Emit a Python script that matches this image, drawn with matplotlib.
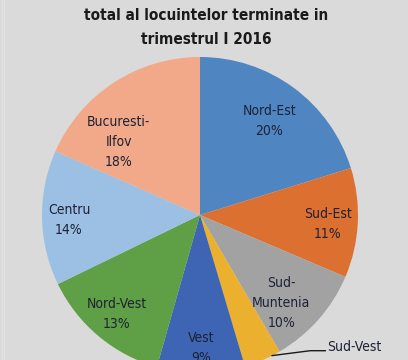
import matplotlib
matplotlib.use("Agg")
import matplotlib.pyplot as plt
from matplotlib.lines import Line2D
import numpy as np

regions = ["Nord-Est", "Sud-Est", "Sud-\nMuntenia", "Sud-Vest", "Vest", "Nord-Vest", "Centru", "Bucuresti-\nIlfov"]
shares = [20.2, 11.2, 10.2, 3.8, 9.0, 13.4, 13.8, 18.4]
pct_labels = ["20%", "11%", "10%", "4%", "9%", "13%", "14%", "18%"]
title_lines = ["Distributia pe regiuni de dezvoltare a numarului",
               "total al locuintelor terminate in",
               "trimestrul I 2016"]

colors = ["#4F86C2", "#DC7030", "#A2A2A2", "#EBB12E", "#3E65B4", "#5F9F45", "#9CC0E4", "#F1A98A"]
bg = "#DADADA"
# label placement style: radial fraction, angular shift (deg, clockwise)
lab_r = [0.74, 0.81, 0.76, 1.128, 0.84, 0.82, 0.83, 0.69]
lab_shift = [0, 1, 6, -22.2, 0, 0, -1, -15]

W, H = 408, 360
fig = plt.figure(figsize=(W / 100, H / 100), dpi=100, facecolor=bg)
font = dict(family="DejaVu Sans", fontstretch="condensed")

cx, cy, R = 200, 215, 158
ax = fig.add_axes([(cx - R) / W, (H - cy - R) / H, 2 * R / W, 2 * R / H])
ax.set_facecolor(bg)
wedges, _ = ax.pie(shares, colors=colors, startangle=90, counterclock=False,
                   radius=1, wedgeprops=dict(linewidth=0))
ax.set_xlim(-1, 1)
ax.set_ylim(-1, 1)
ax.set_aspect("auto")
ax.axis("off")

px = 1 / R  # one pixel in data units
for i, w in enumerate(wedges):
    mid_deg = (w.theta1 + w.theta2) / 2
    mid = np.deg2rad(mid_deg - lab_shift[i])
    x, y = lab_r[i] * np.cos(mid), lab_r[i] * np.sin(mid)
    txt = regions[i] + "\n" + pct_labels[i]
    if lab_r[i] > 1:
        edge_ang = np.deg2rad(mid_deg + 3.75)
        ex, ey = np.cos(edge_ang), np.sin(edge_ang)
        kx, ky = x - 17 * px, y - 11 * px
        ax.plot([ex, kx, x - 2 * px], [ey, ky, ky], color="#1A1A1A", lw=1, clip_on=False)
        ax.text(x, y, txt, ha="left", va="top", fontsize=10, color="#1E2235",
                linespacing=1.55, clip_on=False, **font)
        continue
    ax.text(x, y, txt, ha="center", va="center", fontsize=10, color="#1E2235",
            linespacing=1.55, **font)

n = len(title_lines)
for i, line in enumerate(title_lines):
    base = 44 - 24 * (n - 1 - i)
    fig.text(206 / W, 1 - base / H, line, ha="center", va="baseline",
             fontsize=11, fontweight="bold", color="#1A1A1A", **font)

# faint border lines at the left edge
for xp in (1.5, 3.5):
    fig.add_artist(Line2D([xp / W, xp / W], [0, 1], color="#E2E2E2", lw=0.8))

fig.savefig("out.png", dpi=100, facecolor=bg)
